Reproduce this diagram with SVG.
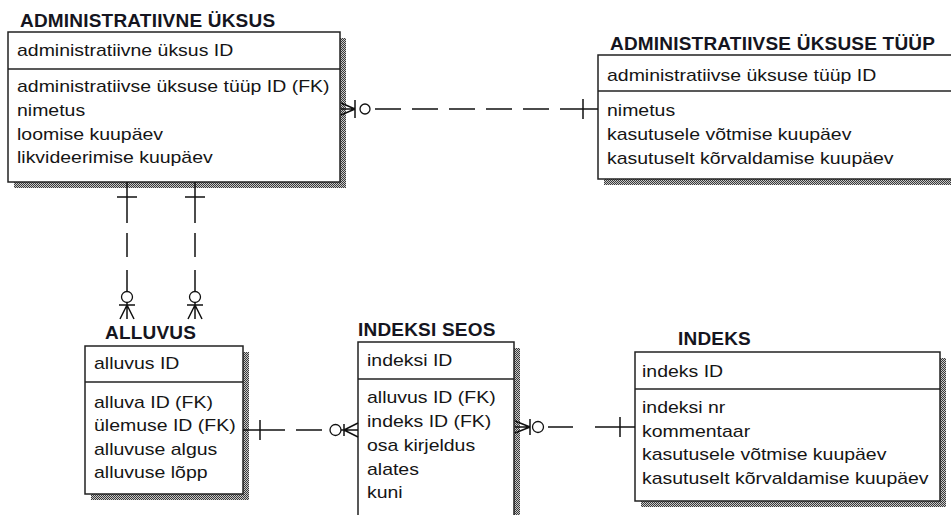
<svg xmlns="http://www.w3.org/2000/svg" width="951" height="515" viewBox="0 0 951 515">
  <defs>
    <!-- dithered drop shadow texture -->
    <pattern id="dither" width="2" height="2" patternUnits="userSpaceOnUse">
      <rect width="2" height="2" fill="#c8c8c8"/>
      <rect width="1" height="1" fill="#3a3a3a"/>
      <rect x="1" y="1" width="1" height="1" fill="#3a3a3a"/>
    </pattern>
  </defs>
  <style>
    .title { font-family: "Liberation Sans", Arial, sans-serif; font-size: 19px; font-weight: bold; fill: #151520; letter-spacing: 0.2px; }
    .attr { font-family: "Liberation Sans", Arial, sans-serif; font-size: 17px; fill: #151515; }
    .box { fill: #fff; stroke: #222; stroke-width: 1.5; }
    .shadow { fill: url(#dither); }
    .sep { stroke: #222; stroke-width: 1.5; }
    .rel { stroke: #111; stroke-width: 1.5; fill: none; }
    .dash { stroke-dasharray: 26 11; }
    .circ { fill: #fff; stroke: #111; stroke-width: 1.3; }
  </style>
  <rect width="951" height="515" fill="#fff"/>

  <!-- entity: ADMINISTRATIIVNE ÜKSUS -->
  <g id="administratiivne-uksus">
    <text class="title" x="20" y="27">ADMINISTRATIIVNE ÜKSUS</text>
    <rect class="shadow" x="14" y="38" width="332" height="150"/>
    <rect class="box" x="8" y="32" width="332" height="150"/>
    <line class="sep" x1="8" y1="69" x2="340" y2="69"/>
    <!-- attribute text is drawn slightly widened -->
    <g transform="translate(17 0) scale(1.145 1)">
      <text class="attr" x="0" y="56">administratiivne üksus ID</text>
      <text class="attr" x="0" y="92">administratiivse üksuse tüüp ID (FK)</text>
      <text class="attr" x="0" y="116">nimetus</text>
      <text class="attr" x="0" y="140">loomise kuupäev</text>
      <text class="attr" x="0" y="163">likvideerimise kuupäev</text>
    </g>
  </g>

  <!-- entity: ADMINISTRATIIVSE ÜKSUSE TÜÜP -->
  <g id="administratiivse-uksuse-tuup">
    <text class="title" x="610" y="50">ADMINISTRATIIVSE ÜKSUSE TÜÜP</text>
    <rect class="shadow" x="604" y="61" width="360" height="124"/>
    <rect class="box" x="598" y="55" width="360" height="124"/>
    <line class="sep" x1="598" y1="91" x2="958" y2="91"/>
    <g transform="translate(607 0) scale(1.145 1)">
      <text class="attr" x="0" y="81">administratiivse üksuse tüüp ID</text>
      <text class="attr" x="0" y="116">nimetus</text>
      <text class="attr" x="0" y="140">kasutusele võtmise kuupäev</text>
      <text class="attr" x="0" y="164">kasutuselt kõrvaldamise kuupäev</text>
    </g>
  </g>

  <!-- entity: ALLUVUS -->
  <g id="alluvus">
    <text class="title" x="105" y="339">ALLUVUS</text>
    <rect class="shadow" x="91" y="352" width="158" height="148"/>
    <rect class="box" x="85" y="346" width="158" height="148"/>
    <line class="sep" x1="85" y1="382" x2="243" y2="382"/>
    <g transform="translate(94 0) scale(1.145 1)">
      <text class="attr" x="0" y="369">alluvus ID</text>
      <text class="attr" x="0" y="408">alluva ID (FK)</text>
      <text class="attr" x="0" y="431">ülemuse ID (FK)</text>
      <text class="attr" x="0" y="455">alluvuse algus</text>
      <text class="attr" x="0" y="478">alluvuse lõpp</text>
    </g>
  </g>

  <!-- entity: INDEKSI SEOS -->
  <g id="indeksi-seos">
    <text class="title" x="358" y="336">INDEKSI SEOS</text>
    <rect class="shadow" x="364" y="348" width="156" height="190"/>
    <rect class="box" x="358" y="342" width="156" height="190"/>
    <line class="sep" x1="358" y1="379" x2="514" y2="379"/>
    <g transform="translate(367 0) scale(1.145 1)">
      <text class="attr" x="0" y="366">indeksi ID</text>
      <text class="attr" x="0" y="403">alluvus ID (FK)</text>
      <text class="attr" x="0" y="427">indeks ID (FK)</text>
      <text class="attr" x="0" y="451">osa kirjeldus</text>
      <text class="attr" x="0" y="475">alates</text>
      <text class="attr" x="0" y="498">kuni</text>
    </g>
  </g>

  <!-- entity: INDEKS -->
  <g id="indeks">
    <text class="title" x="678" y="345">INDEKS</text>
    <rect class="shadow" x="641" y="358" width="305" height="149"/>
    <rect class="box" x="635" y="352" width="305" height="149"/>
    <line class="sep" x1="635" y1="389" x2="940" y2="389"/>
    <g transform="translate(642 0) scale(1.145 1)">
      <text class="attr" x="0" y="377">indeks ID</text>
      <text class="attr" x="0" y="413">indeksi nr</text>
      <text class="attr" x="0" y="437">kommentaar</text>
      <text class="attr" x="0" y="460">kasutusele võtmise kuupäev</text>
      <text class="attr" x="0" y="484">kasutuselt kõrvaldamise kuupäev</text>
    </g>
  </g>

  <!-- relationships (zero-or-many crow's foot end, one-bar end) -->
  <g id="connectors">
    <!-- ADMINISTRATIIVNE ÜKSUS >o - - -| ADMINISTRATIIVSE ÜKSUSE TÜÜP -->
    <g id="rel-tuup">
      <path class="rel" d="M341 103 L355 109 M341 109 L355 109 M341 115 L355 109 M355 100 L355 118"/>
      <circle class="circ" cx="365" cy="109" r="5"/>
      <line class="rel dash" x1="375" y1="109" x2="549" y2="109"/>
      <line class="rel" x1="560" y1="109" x2="598" y2="109"/>
      <line class="rel" x1="583" y1="99" x2="583" y2="119"/>
    </g>

    <!-- ADMINISTRATIIVNE ÜKSUS |- - -o< ALLUVUS (two links) -->
    <g id="rel-alluv">
      <line class="rel" x1="127" y1="182" x2="127" y2="223"/>
      <line class="rel" x1="117" y1="197" x2="137" y2="197"/>
      <line class="rel" x1="127" y1="233" x2="127" y2="257"/>
      <line class="rel" x1="127" y1="270" x2="127" y2="291.5"/>
      <circle class="circ" cx="127" cy="297" r="5.5"/>
      <path class="rel" d="M127 302.5 L127 319 M119 305 L135 305 M127 305 L120 319 M127 305 L134 319"/>
    </g>
    <g id="rel-ulemus">
      <line class="rel" x1="195" y1="182" x2="195" y2="223"/>
      <line class="rel" x1="185" y1="197" x2="205" y2="197"/>
      <line class="rel" x1="195" y1="233" x2="195" y2="257"/>
      <line class="rel" x1="195" y1="270" x2="195" y2="291.5"/>
      <circle class="circ" cx="195" cy="297" r="5.5"/>
      <path class="rel" d="M195 302.5 L195 319 M187 305 L203 305 M195 305 L188 319 M195 305 L202 319"/>
    </g>

    <!-- ALLUVUS |- - -o< INDEKSI SEOS -->
    <g id="rel-seos-alluvus">
      <line class="rel" x1="243" y1="430" x2="285" y2="430"/>
      <line class="rel" x1="260" y1="420" x2="260" y2="440"/>
      <line class="rel" x1="296" y1="430" x2="322" y2="430"/>
      <circle class="circ" cx="335.5" cy="430" r="5.5"/>
      <path class="rel" d="M341 430 L358 430 M344 424 L344 436 M344 430 L358 423 M344 430 L358 437"/>
    </g>

    <!-- INDEKSI SEOS >o- - -| INDEKS -->
    <g id="rel-seos-indeks">
      <path class="rel" d="M515 421 L530 427 M515 427 L530 427 M515 433 L530 427 M530 419 L530 435"/>
      <circle class="circ" cx="538" cy="427" r="5.5"/>
      <line class="rel" x1="548" y1="427" x2="573" y2="427"/>
      <line class="rel" x1="595" y1="427" x2="635" y2="427"/>
      <line class="rel" x1="620" y1="417" x2="620" y2="437"/>
    </g>
  </g>
</svg>
